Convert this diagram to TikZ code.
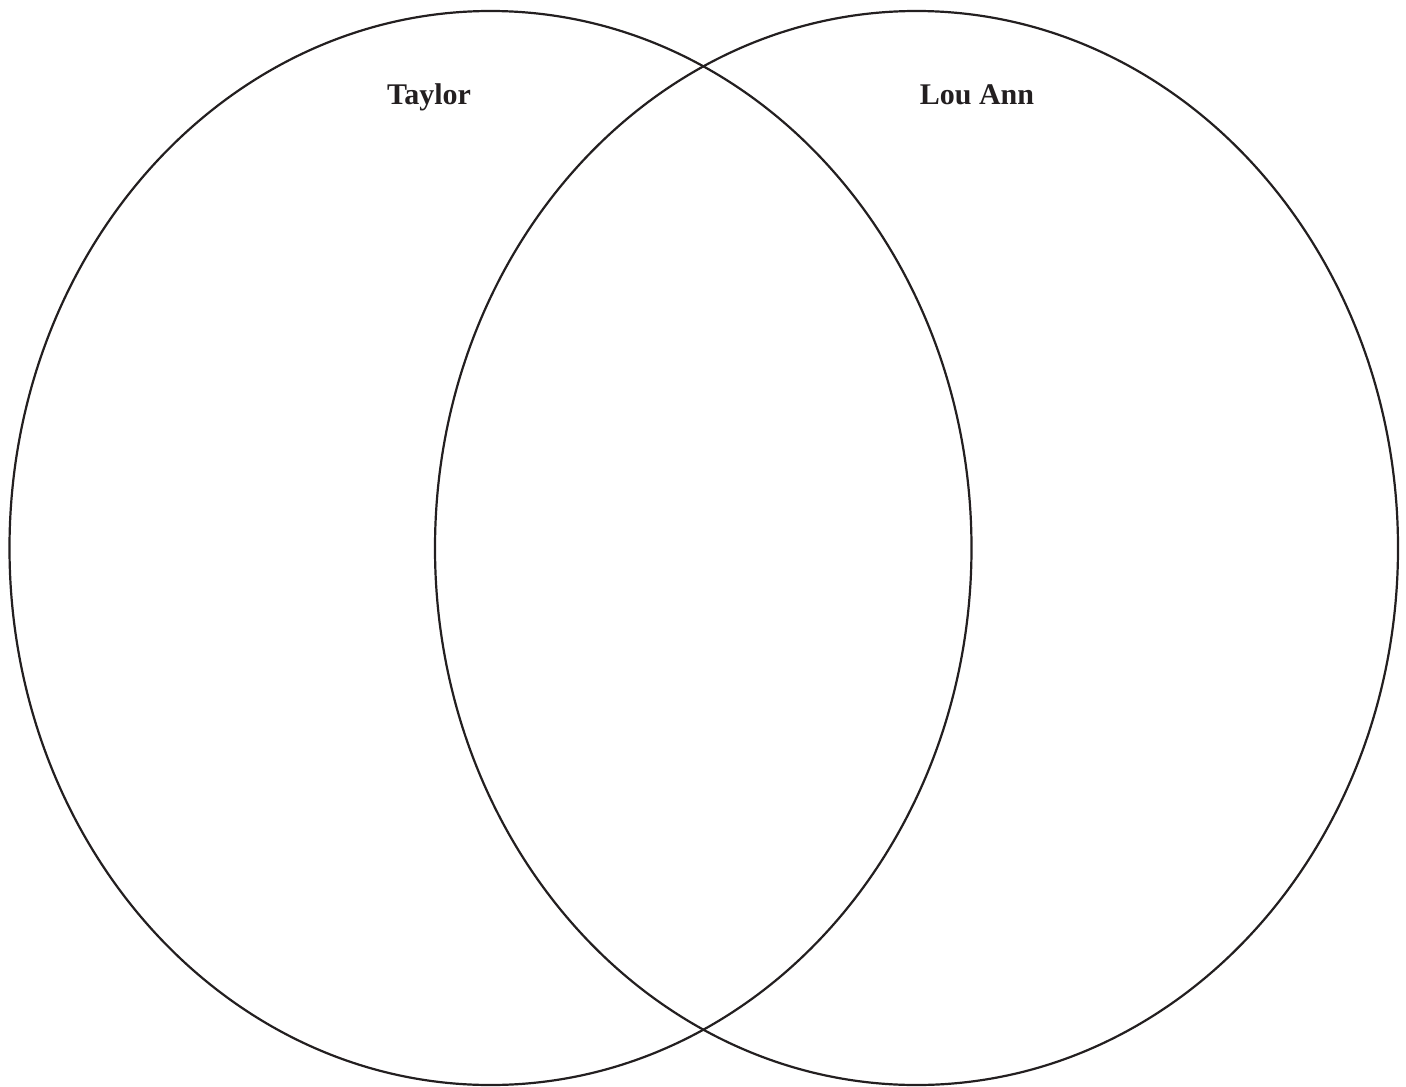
\documentclass[tikz,border=0pt]{standalone}
\usepackage{fontspec}
\setmainfont{Liberation Serif}
\definecolor{ink}{HTML}{231F20}
\begin{document}
\begin{tikzpicture}[x=1pt,y=-1pt,
  ring/.style={draw=ink,line width=2.2pt},
  lbl/.style={text=ink,font=\fontsize{30}{34}\selectfont\bfseries,anchor=base}]
\useasboundingbox (0,0) rectangle (1406,1087);
\fill[white] (0,0) rectangle (1406,1087);
\draw[ring] (490.5,548) ellipse [x radius=481, y radius=537];
\draw[ring] (916.5,548) ellipse [x radius=481.5, y radius=537];
\node[lbl] (taylor) at (429,104) {Taylor};
\node[lbl] (louann) at (977,104) {Lou Ann};
\end{tikzpicture}
\end{document}
